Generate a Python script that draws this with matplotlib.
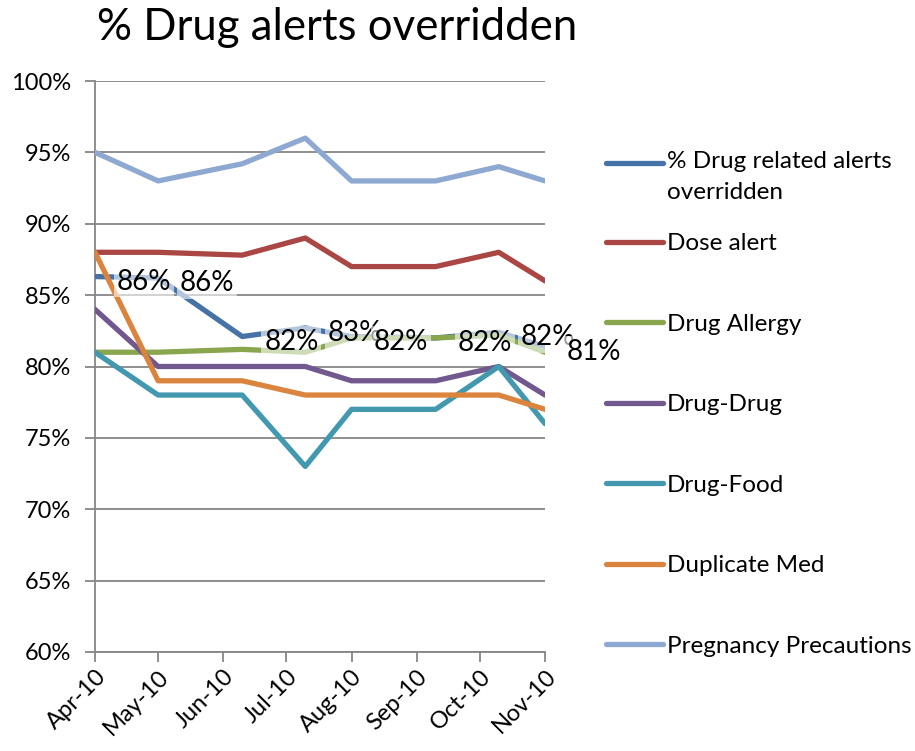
import datetime as dt
import matplotlib
matplotlib.use('Agg')
import matplotlib.pyplot as plt
import matplotlib.dates as mdates
from matplotlib.ticker import FuncFormatter, MultipleLocator
from matplotlib.legend_handler import HandlerLine2D

plt.rcParams['font.family'] = ['Lato', 'DejaVu Sans']

dates = [dt.date(2010, 4, 1), dt.date(2010, 5, 1), dt.date(2010, 6, 10),
         dt.date(2010, 7, 10), dt.date(2010, 8, 1), dt.date(2010, 9, 10),
         dt.date(2010, 10, 10), dt.date(2010, 11, 1)]

series_names = ['% Drug related alerts\noverridden', 'Dose alert', 'Drug Allergy',
                'Drug-Drug', 'Drug-Food', 'Duplicate Med', 'Pregnancy Precautions']

drug_related = [86.3, 86.2, 82.1, 82.7, 82.1, 82.0, 82.4, 81.4]
dose_alert = [88.0, 88.0, 87.8, 89.0, 87.0, 87.0, 88.0, 86.0]
drug_allergy = [81.0, 81.0, 81.2, 81.0, 82.0, 82.0, 82.2, 81.0]
drug_drug = [84.0, 80.0, 80.0, 80.0, 79.0, 79.0, 80.0, 78.0]
drug_food = [81.0, 78.0, 78.0, 73.0, 77.0, 77.0, 80.0, 76.0]
duplicate_med = [88.0, 79.0, 79.0, 78.0, 78.0, 78.0, 78.0, 77.0]
pregnancy = [95.0, 93.0, 94.2, 96.0, 93.0, 93.0, 94.0, 93.0]

colors = ['#4572A7', '#AA4643', '#89A54E', '#71588F', '#4198AF', '#DB843D', '#8EA9D1']

all_series = [drug_related, dose_alert, drug_allergy, drug_drug,
              drug_food, duplicate_med, pregnancy]


class TopLineHandler(HandlerLine2D):
    # put the legend line level with the first text line, like Excel does
    def create_artists(self, legend, orig_handle, xdescent, ydescent,
                       width, height, fontsize, trans):
        arts = super().create_artists(legend, orig_handle, xdescent, ydescent,
                                      width, height, fontsize, trans)
        for a in arts:
            a.set_ydata([y + 10.5 for y in a.get_ydata()])
        return arts


fig = plt.figure(figsize=(9.15, 7.51), dpi=100)
ax = fig.add_axes([95 / 915, 1 - 652 / 751, 450 / 915, 571 / 751])

lines = []
for i, vals in enumerate(all_series):
    ln, = ax.plot(dates, [v / 100 for v in vals], color=colors[i], lw=3.8,
                  solid_capstyle='round', solid_joinstyle='round',
                  label=series_names[i], zorder=3 + i)
    lines.append(ln)

# data labels on the first series
for d, v in zip(dates, drug_related):
    ax.annotate('%d%%' % round(v), (d, v / 100), xytext=(22, -5),
                textcoords='offset pixels', ha='left', va='center',
                fontsize=20, color='black', zorder=20,
                bbox=dict(boxstyle='square,pad=0.1', fc='white', ec='none', alpha=0.6))

ax.set_ylim(0.6, 1.0)
ax.set_xlim(dt.date(2010, 4, 1), dt.date(2010, 11, 1))
ax.yaxis.set_major_locator(MultipleLocator(0.05))
ax.yaxis.set_major_formatter(FuncFormatter(lambda y, p: '%d%%' % round(y * 100)))
ax.xaxis.set_major_locator(mdates.MonthLocator())
ax.xaxis.set_major_formatter(mdates.DateFormatter('%b-%y'))

ax.grid(axis='y', color='#868686', lw=1.3, zorder=1)
ax.set_axisbelow(True)
for s in ['top', 'right']:
    ax.spines[s].set_visible(False)
for s in ['left', 'bottom']:
    ax.spines[s].set_color('#868686')
    ax.spines[s].set_linewidth(1.3)
ax.tick_params(axis='both', color='#868686', width=1.3, length=7, labelsize=17)
ax.tick_params(axis='y', pad=10)
ax.tick_params(axis='x', pad=3)
plt.setp(ax.get_xticklabels(), rotation=45, ha='right', rotation_mode='anchor')

fig.text(97 / 915, 1 - 28 / 751, '% Drug alerts overridden', fontsize=31.5,
         ha='left', va='center')

leg_kw = dict(loc='upper left', frameon=False, fontsize=17.5, handlelength=2.35,
              handletextpad=0.15, labelspacing=2.45, borderaxespad=0, borderpad=0)
leg1 = fig.legend(lines[:1], series_names[:1], bbox_to_anchor=(606 / 915, 1 - 151 / 751),
                  handler_map={lines[0]: TopLineHandler()}, **leg_kw)
for t in leg1.get_texts():
    t.set_linespacing(1.6)
leg2 = fig.legend(lines[1:], series_names[1:], bbox_to_anchor=(606 / 915, 1 - 233 / 751),
                  **leg_kw)

fig.savefig('out.png', dpi=100)
